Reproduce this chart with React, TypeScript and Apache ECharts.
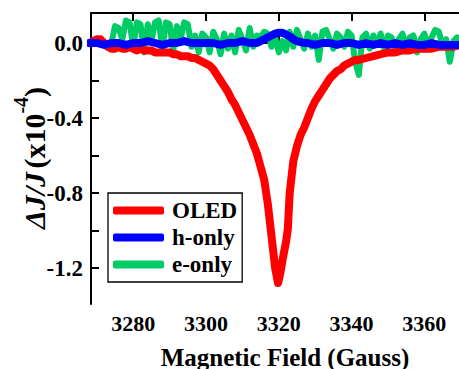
import React, { useEffect, useRef } from "react";
import * as echarts from "echarts";

const FONT = "'Liberation Serif', 'Times New Roman', serif";

const seriesNames = ["OLED", "h-only", "e-only"];
const xTicks = [3280, 3300, 3320, 3340, 3360];
const yTicks = [-1.2, -1.0, -0.8, -0.6, -0.4, -0.2, 0.0];
const yLabels = [-1.2, -0.8, -0.4, 0.0];

const oledX = [
  3268, 3269, 3270, 3271, 3272, 3273, 3274, 3275, 3276, 3277, 3278, 3279, 3280,
  3281, 3282, 3283, 3284, 3285, 3286, 3287, 3288, 3289, 3290, 3291, 3292, 3293,
  3294, 3295, 3296, 3297, 3298, 3299, 3300, 3301, 3302, 3303, 3304, 3305, 3306,
  3307, 3308, 3309, 3310, 3311, 3312, 3313, 3314, 3315, 3316, 3317, 3318, 3319,
  3319.8, 3320.5, 3321, 3322, 3322.5, 3323, 3324, 3325, 3326, 3327, 3328, 3329,
  3330, 3331, 3332, 3333, 3334, 3335, 3336, 3337, 3338, 3339, 3340, 3341, 3342,
  3344, 3346, 3348, 3350, 3352, 3354, 3356, 3358, 3360, 3362, 3364, 3366, 3368,
  3370, 3372,
];
const oledY = [
  0.0, 0.01, 0.02, 0.02, 0.0, -0.02, -0.03, -0.03, -0.02, -0.03, -0.03, -0.02,
  -0.03, -0.04, -0.03, -0.04, -0.04, -0.04, -0.05, -0.05, -0.05, -0.05, -0.05,
  -0.06, -0.06, -0.07, -0.07, -0.07, -0.08, -0.08, -0.09, -0.1, -0.11, -0.12,
  -0.14, -0.17, -0.2, -0.23, -0.26, -0.3, -0.33, -0.37, -0.41, -0.45, -0.49,
  -0.54, -0.59, -0.66, -0.73, -0.86, -1.03, -1.2, -1.28, -1.22, -1.16, -1.06,
  -0.99, -0.8, -0.63, -0.55, -0.49, -0.45, -0.4, -0.35, -0.31, -0.28, -0.25,
  -0.22, -0.19, -0.17, -0.15, -0.14, -0.12, -0.11, -0.1, -0.09, -0.09, -0.08,
  -0.07, -0.06, -0.05, -0.05, -0.04, -0.04, -0.03, -0.03, -0.03, -0.02, -0.02,
  -0.02, -0.01, -0.01,
];

const holeX = [
  3268, 3270, 3272, 3274, 3276, 3278, 3280, 3282, 3284, 3286, 3288, 3290, 3292,
  3294, 3296, 3298, 3300, 3302, 3304, 3306, 3308, 3310, 3312, 3314, 3315, 3316,
  3317, 3318, 3319, 3320, 3321, 3322, 3323, 3324, 3325, 3326, 3327, 3328, 3330,
  3332, 3334, 3336, 3338, 3340, 3342, 3344, 3346, 3348, 3350, 3352, 3354, 3356,
  3358, 3360, 3362, 3364, 3366, 3368, 3370, 3372,
];
const holeY = [
  0.0, 0.0, -0.01, 0.0, 0.0, -0.01, 0.0, 0.0, 0.01, 0.0, -0.01, 0.0, 0.0, 0.01,
  0.0, 0.0, 0.0, 0.0, -0.01, 0.0, 0.0, 0.01, 0.0, 0.0, 0.01, 0.02, 0.03, 0.04,
  0.05, 0.055, 0.055, 0.045, 0.035, 0.02, 0.01, 0.005, 0.0, 0.0, -0.01, 0.0,
  0.0, -0.01, 0.0, 0.0, -0.01, 0.0, -0.01, 0.0, -0.01, 0.0, -0.01, 0.0, -0.01,
  -0.01, 0.0, -0.01, -0.01, -0.01, -0.01, -0.01,
];

const elecX = [
  3274, 3275, 3276, 3277, 3278, 3279, 3280, 3281, 3282, 3283, 3284, 3285, 3286,
  3287, 3288, 3289, 3290, 3291, 3292, 3293, 3294, 3295, 3296, 3297, 3298, 3299,
  3300, 3301, 3302, 3303, 3304, 3305, 3306, 3307, 3308, 3309, 3310, 3311, 3312,
  3313, 3314, 3315, 3316, 3317, 3318, 3319, 3320, 3321, 3322, 3323, 3324, 3325,
  3326, 3327, 3328, 3329, 3330, 3331, 3332, 3333, 3334, 3335, 3336, 3337, 3338,
  3339, 3340, 3341, 3342, 3343, 3344, 3345, 3346, 3347, 3348, 3349, 3350, 3351,
  3352, 3353, 3354, 3355, 3356, 3357, 3358, 3359, 3360, 3361, 3362, 3363, 3364,
  3365, 3366, 3367, 3368, 3369, 3370, 3371, 3372,
];
const elecY = [
  0.0, 0.09, 0.08, 0.02, 0.12, 0.11, -0.02, 0.11, 0.1, -0.05, 0.1, 0.01, 0.11,
  0.12, -0.03, 0.11, 0.1, -0.04, 0.09, 0.02, 0.11, 0.1, -0.02, 0.04, -0.05,
  0.05, 0.03, -0.05, 0.06, 0.02, -0.06, 0.05, -0.03, 0.04, -0.05, 0.07, 0.02,
  -0.04, 0.08, -0.02, 0.04, 0.03, 0.06, 0.05, -0.02, 0.03, -0.05, 0.01, -0.04,
  0.06, -0.02, 0.07, 0.02, -0.03, 0.05, -0.02, 0.04, -0.09, 0.06, 0.07, 0.02,
  -0.03, 0.05, 0.03, -0.02, 0.06, 0.04, -0.1, -0.17, 0.03, 0.05, -0.03, 0.04,
  0.0, 0.05, -0.03, 0.04, 0.03, -0.04, 0.02, 0.05, -0.02, 0.03, 0.04, -0.05,
  0.02, 0.05, -0.02, 0.03, 0.07, 0.06, -0.01, 0.02, -0.1, 0.01, 0.03, -0.02,
  0.02, 0.0,
];

const zip = (xs: number[], ys: number[]) => xs.map((x, i) => [x, ys[i]]);

export default function App() {
  const ref = useRef<HTMLDivElement>(null);
  useEffect(() => {
    if (!ref.current) return;
    const chart = echarts.init(ref.current, null, { renderer: "svg" });
    const axisLine = { show: true, lineStyle: { color: "#000", width: 2 } };
    const xTick = {
      show: true,
      inside: true,
      length: 8,
      lineStyle: { color: "#000", width: 2 },
      customValues: xTicks,
    };
    chart.setOption({
      animation: false,
      backgroundColor: "#fff",
      grid: { left: 91, top: 13, width: 377, height: 291 },
      xAxis: [
        {
          type: "value",
          min: 3268.4,
          max: 3372,
          position: "bottom",
          axisLine,
          axisTick: xTick,
          splitLine: { show: false },
          axisLabel: {
            customValues: xTicks,
            margin: 8,
            color: "#000",
            fontFamily: FONT,
            fontWeight: "bold",
            fontSize: 22,
            formatter: (v: number) => String(v),
          },
        },
        {
          type: "value",
          min: 3268.4,
          max: 3372,
          position: "top",
          axisLine,
          axisTick: xTick,
          splitLine: { show: false },
          axisLabel: { show: false },
        },
      ],
      yAxis: {
        type: "value",
        min: -1.392,
        max: 0.16,
        axisLine,
        axisTick: {
          show: true,
          inside: true,
          length: 8,
          lineStyle: { color: "#000", width: 2 },
          customValues: yTicks,
        },
        splitLine: { show: false },
        axisLabel: {
          customValues: yLabels,
          margin: 8,
          color: "#000",
          fontFamily: FONT,
          fontWeight: "bold",
          fontSize: 23,
          formatter: (v: number) => (Math.abs(v) < 1e-9 ? "0.0" : v.toFixed(1)),
        },
      },
      legend: {
        data: seriesNames,
        orient: "vertical",
        left: 108,
        top: 193,
        icon: "roundRect",
        itemWidth: 51,
        itemHeight: 8,
        itemGap: 4,
        padding: [6, 5, 6, 5],
        borderColor: "#000",
        borderWidth: 1.3,
        backgroundColor: "#fff",
        textStyle: {
          color: "#000",
          fontFamily: FONT,
          fontWeight: "bold",
          fontSize: 23,
          lineHeight: 23,
          padding: [0, 0, 0, 3],
        },
      },
      series: [
        {
          name: "e-only",
          type: "line",
          data: zip(elecX, elecY),
          showSymbol: false,
          color: "#00cc66",
          lineStyle: { width: 6, color: "#00cc66", join: "round", cap: "round" },
          z: 1,
        },
        {
          name: "OLED",
          type: "line",
          data: zip(oledX, oledY),
          showSymbol: false,
          color: "#ff0000",
          lineStyle: { width: 8, color: "#ff0000", join: "round", cap: "round" },
          z: 2,
        },
        {
          name: "h-only",
          type: "line",
          data: zip(holeX, holeY),
          showSymbol: false,
          color: "#0000ff",
          lineStyle: { width: 8, color: "#0000ff", join: "round", cap: "round" },
          z: 3,
        },
      ],
      graphic: [
        {
          type: "text",
          x: 285,
          y: 357,
          style: {
            text: "Magnetic Field (Gauss)",
            fill: "#000",
            font: `bold 25px ${FONT}`,
            align: "center",
            verticalAlign: "middle",
          },
        },
        {
          type: "text",
          x: 30,
          y: 158,
          rotation: Math.PI / 2,
          style: {
            text: "{a|ΔJ/J} {b|(x10}{s|-4}{b|)}",
            align: "center",
            verticalAlign: "middle",
            rich: {
              a: {
                fill: "#000",
                fontFamily: FONT,
                fontWeight: "bold",
                fontStyle: "italic",
                fontSize: 30,
                lineHeight: 38,
                verticalAlign: "bottom",
              },
              b: {
                fill: "#000",
                fontFamily: FONT,
                fontWeight: "bold",
                fontSize: 30,
                lineHeight: 38,
                verticalAlign: "bottom",
              },
              s: {
                fill: "#000",
                fontFamily: FONT,
                fontWeight: "bold",
                fontSize: 20,
                lineHeight: 38,
                verticalAlign: "top",
              },
            },
          },
        },
      ],
    });
    return () => chart.dispose();
  }, []);
  return (
    <div
      ref={ref}
      style={{ position: "fixed", left: 0, top: 0, width: 470, height: 369 }}
    />
  );
}
